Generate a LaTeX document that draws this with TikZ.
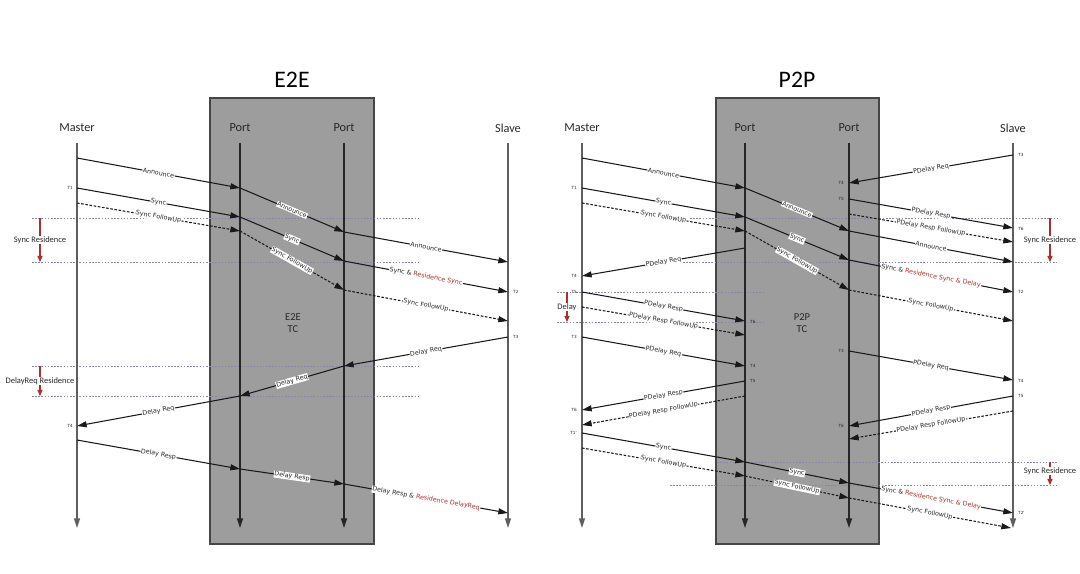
\documentclass[tikz,border=0pt]{standalone}
\usepackage{fontspec}
\setmainfont{Carlito}
\newfontfamily\labfam{DejaVu Sans}
\usetikzlibrary{arrows.meta}
\definecolor{boxgray}{RGB}{157,157,157}
\definecolor{boxedge}{RGB}{70,70,70}
\definecolor{lifegray}{RGB}{95,95,95}
\definecolor{resred}{RGB}{175,45,45}
\definecolor{dotc}{RGB}{135,135,165}
\definecolor{txtc}{RGB}{40,40,40}
\newcommand\cp[3]{\coordinate (#1) at (#2,#3);}
\newcommand\rs[1]{\textcolor{resred}{#1}}
\begin{document}
\begin{tikzpicture}[x=0.02cm,y=-0.02cm,
  tip/.style={-{Triangle[length=5.5pt,width=3.4pt]}},
  msg/.style={draw=black!90, line width=0.6pt, tip},
  dmsg/.style={msg, dash pattern=on 1.5pt off 0.9pt},
  mlab/.style={font=\labfam\fontsize{3.6}{4}\selectfont, text=txtc, fill=white, inner sep=0.3pt, sloped, midway},
  life/.style={draw=lifegray, line width=0.9pt, tip},
  plife/.style={draw=black!85, line width=0.9pt, tip},
  hdr/.style={font=\fontsize{7}{8}\selectfont, text=txtc},
  ttl/.style={font=\fontsize{13.5}{15}\selectfont, text=black},
  tcl/.style={font=\fontsize{6}{7}\selectfont, text=txtc, align=center},
  tlab/.style={font=\labfam\fontsize{2.4}{3}\selectfont, text=txtc, inner sep=0.5pt},
  guide/.style={draw=dotc, line width=0.45pt, dash pattern=on 0.9pt off 0.9pt},
  res/.style={draw=resred, line width=0.6pt, -{Triangle[length=3.5pt,width=3pt]}},
  rlab/.style={font=\fontsize{4.8}{5.5}\selectfont, text=txtc, fill=white, inner sep=0.3pt, midway},
  tcbox/.style={fill=boxgray, draw=boxedge, line width=0.7pt},
]
\useasboundingbox (0,0) rectangle (1080,574);

% ================= E2E =================
\node[ttl] (aTitle) at (292,80) {E2E};
\draw[tcbox] (210,98) rectangle (374,544);
\node[tcl] (aTC) at (293,323) {E2E\\TC};

\node[hdr] (aHM) at (77,128) {Master};
\node[hdr] (aHP) at (240,128) {Port};
\node[hdr] (aHQ) at (344,128) {Port};
\node[hdr] (aHS) at (508,128) {Slave};

% guides
\cp{ag1a}{32}{218}\cp{ag1b}{418}{218}
\cp{ag2a}{32}{262}\cp{ag2b}{418}{262}
\cp{ag3a}{32}{366}\cp{ag3b}{418}{366}
\cp{ag4a}{32}{396}\cp{ag4b}{418}{396}
\draw[guide] (ag1a) -- (ag1b);
\draw[guide] (ag2a) -- (ag2b);
\draw[guide] (ag3a) -- (ag3b);
\draw[guide] (ag4a) -- (ag4b);

% residence markers
\cp{ar1a}{40}{218}\cp{ar1b}{40}{262}
\draw[res] (ar1a) -- node[rlab]{Sync Residence} (ar1b);
\cp{ar2a}{40}{366}\cp{ar2b}{40}{396}
\draw[res] (ar2a) -- node[rlab]{DelayReq Residence} (ar2b);

% lifelines
\cp{aMt}{77}{143}\cp{aMb}{77}{528}
\cp{aPt}{240}{143}\cp{aPb}{240}{528}
\cp{aQt}{344}{143}\cp{aQb}{344}{528}
\cp{aSt}{508}{143}\cp{aSb}{508}{528}
\draw[life] (aMt) -- (aMb);
\draw[plife] (aPt) -- (aPb);
\draw[plife] (aQt) -- (aQb);
\draw[life] (aSt) -- (aSb);

% Announce
\cp{aA0}{77}{158}\cp{aA1}{240}{188}\cp{aA2}{344}{232}\cp{aA3}{508}{262}
\draw[msg] (aA0) -- node[mlab]{Announce} (aA1);
\draw[msg] (aA1) -- node[mlab]{Announce} (aA2);
\draw[msg] (aA2) -- node[mlab]{Announce} (aA3);
% Sync
\cp{aB0}{77}{188}\cp{aB1}{240}{217}\cp{aB2}{344}{261}\cp{aB3}{508}{292}
\draw[msg] (aB0) -- node[mlab]{Sync} (aB1);
\draw[msg] (aB1) -- node[mlab]{Sync} (aB2);
\draw[msg] (aB2) -- node[mlab]{Sync \& \rs{Residence Sync}} (aB3);
% Sync FollowUp
\cp{aC0}{77}{203}\cp{aC1}{240}{231}\cp{aC2}{344}{290}\cp{aC3}{508}{321}
\draw[dmsg] (aC0) -- node[mlab]{Sync FollowUp} (aC1);
\draw[dmsg] (aC1) -- node[mlab]{Sync FollowUp} (aC2);
\draw[dmsg] (aC2) -- node[mlab]{Sync FollowUp} (aC3);
% Delay Req
\cp{aD0}{508}{337}\cp{aD1}{344}{366}\cp{aD2}{240}{396}\cp{aD3}{77}{426}
\draw[msg] (aD0) -- node[mlab]{Delay Req} (aD1);
\draw[msg] (aD1) -- node[mlab]{Delay Req} (aD2);
\draw[msg] (aD2) -- node[mlab]{Delay Req} (aD3);
% Delay Resp
\cp{aE0}{77}{440}\cp{aE1}{240}{469}\cp{aE2}{344}{484}\cp{aE3}{508}{513}
\draw[msg] (aE0) -- node[mlab]{Delay Resp} (aE1);
\draw[msg] (aE1) -- node[mlab]{Delay Resp} (aE2);
\draw[msg] (aE2) -- node[mlab]{Delay Resp \& \rs{Residence DelayReq}} (aE3);

% T labels
\node[tlab, anchor=east] (aT1) at (74,188) {T1};
\node[tlab, anchor=west] (aT2) at (512,292) {T2};
\node[tlab, anchor=west] (aT3) at (512,337) {T3};
\node[tlab, anchor=east] (aT4) at (74,426) {T4};

% ================= P2P =================
\node[ttl] (bTitle) at (797,80) {P2P};
\draw[tcbox] (716,98) rectangle (879,544);
\node[tcl] (bTC) at (802,323) {P2P\\TC};

\node[hdr] (bHM) at (582,128) {Master};
\node[hdr] (bHP) at (745,128) {Port};
\node[hdr] (bHQ) at (849,128) {Port};
\node[hdr] (bHS) at (1013,128) {Slave};

% guides
\cp{bg1a}{690}{218}\cp{bg1b}{1057}{218}
\cp{bg2a}{683}{262}\cp{bg2b}{1057}{262}
\cp{bg3a}{557}{292}\cp{bg3b}{763}{292}
\cp{bg4a}{557}{322}\cp{bg4b}{763}{322}
\cp{bg5a}{717}{462}\cp{bg5b}{1057}{462}
\cp{bg6a}{670}{485}\cp{bg6b}{1057}{485}
\draw[guide] (bg1a) -- (bg1b);
\draw[guide] (bg2a) -- (bg2b);
\draw[guide] (bg3a) -- (bg3b);
\draw[guide] (bg4a) -- (bg4b);
\draw[guide] (bg5a) -- (bg5b);
\draw[guide] (bg6a) -- (bg6b);

% residence markers
\cp{br1a}{1050}{218}\cp{br1b}{1050}{262}
\draw[res] (br1a) -- node[rlab]{Sync Residence} (br1b);
\cp{br2a}{567}{292}\cp{br2b}{567}{322}
\draw[res] (br2a) -- node[rlab]{Delay} (br2b);
\cp{br3a}{1050}{462}\cp{br3b}{1050}{485}
\draw[res] (br3a) -- node[rlab, pos=0.4]{Sync Residence} (br3b);

% lifelines
\cp{bMt}{582}{143}\cp{bMb}{582}{528}
\cp{bPt}{745}{143}\cp{bPb}{745}{528}
\cp{bQt}{849}{143}\cp{bQb}{849}{528}
\cp{bSt}{1013}{143}\cp{bSb}{1013}{528}
\draw[life] (bMt) -- (bMb);
\draw[plife] (bPt) -- (bPb);
\draw[plife] (bQt) -- (bQb);
\draw[life] (bSt) -- (bSb);

% Announce
\cp{bA0}{582}{158}\cp{bA1}{745}{188}\cp{bA2}{849}{231}\cp{bA3}{1013}{262}
\draw[msg] (bA0) -- node[mlab]{Announce} (bA1);
\draw[msg] (bA1) -- node[mlab]{Announce} (bA2);
\draw[msg] (bA2) -- node[mlab]{Announce} (bA3);
% Sync
\cp{bB0}{582}{188}\cp{bB1}{745}{217}\cp{bB2}{849}{260}\cp{bB3}{1013}{292}
\draw[msg] (bB0) -- node[mlab]{Sync} (bB1);
\draw[msg] (bB1) -- node[mlab]{Sync} (bB2);
\draw[msg] (bB2) -- node[mlab]{Sync \& \rs{Residence Sync \& Delay}} (bB3);
% Sync FollowUp
\cp{bC0}{582}{203}\cp{bC1}{745}{231}\cp{bC2}{849}{290}\cp{bC3}{1013}{321}
\draw[dmsg] (bC0) -- node[mlab]{Sync FollowUp} (bC1);
\draw[dmsg] (bC1) -- node[mlab]{Sync FollowUp} (bC2);
\draw[dmsg] (bC2) -- node[mlab]{Sync FollowUp} (bC3);

% Peer delay, Port2 <-> Slave (first)
\cp{bD0}{1013}{155}\cp{bD1}{849}{183}
\draw[msg] (bD0) -- node[mlab]{PDelay Req} (bD1);
\cp{bD2}{849}{199}\cp{bD3}{1013}{228}
\draw[msg] (bD2) -- node[mlab]{PDelay Resp} (bD3);
\cp{bD4}{849}{214}\cp{bD5}{1013}{242}
\draw[dmsg] (bD4) -- node[mlab]{PDelay Resp FollowUp} (bD5);

% Peer delay, Port1 -> Master
\cp{bE0}{745}{248}\cp{bE1}{582}{276}
\draw[msg] (bE0) -- node[mlab]{PDelay Req} (bE1);
\cp{bE2}{582}{292}\cp{bE3}{745}{321}
\draw[msg] (bE2) -- node[mlab]{PDelay Resp} (bE3);
\cp{bE4}{582}{307}\cp{bE5}{745}{335}
\draw[dmsg] (bE4) -- node[mlab]{PDelay Resp FollowUp} (bE5);

% Peer delay, Master -> Port1
\cp{bF0}{582}{337}\cp{bF1}{745}{366}
\draw[msg] (bF0) -- node[mlab]{PDelay Req} (bF1);
\cp{bF2}{745}{381}\cp{bF3}{582}{410}
\draw[msg] (bF2) -- node[mlab]{PDelay Resp} (bF3);
\cp{bF4}{745}{396}\cp{bF5}{582}{425}
\draw[dmsg] (bF4) -- node[mlab]{PDelay Resp FollowUp} (bF5);

% Peer delay, Port2 -> Slave (second)
\cp{bG0}{849}{351}\cp{bG1}{1013}{380}
\draw[msg] (bG0) -- node[mlab]{PDelay Req} (bG1);
\cp{bG2}{1013}{396}\cp{bG3}{849}{426}
\draw[msg] (bG2) -- node[mlab]{PDelay Resp} (bG3);
\cp{bG4}{1013}{411}\cp{bG5}{849}{439}
\draw[dmsg] (bG4) -- node[mlab]{PDelay Resp FollowUp} (bG5);

% second Sync
\cp{bH0}{582}{433}\cp{bH1}{745}{462}\cp{bH2}{849}{483}\cp{bH3}{1013}{513}
\draw[msg] (bH0) -- node[mlab]{Sync} (bH1);
\draw[msg] (bH1) -- node[mlab]{Sync} (bH2);
\draw[msg] (bH2) -- node[mlab]{Sync \& \rs{Residence Sync \& Delay}} (bH3);
% second Sync FollowUp
\cp{bI0}{582}{448}\cp{bI1}{745}{476}\cp{bI2}{849}{498}\cp{bI3}{1011}{528}
\draw[dmsg] (bI0) -- node[mlab]{Sync FollowUp} (bI1);
\draw[dmsg] (bI1) -- node[mlab]{Sync FollowUp} (bI2);
\draw[dmsg] (bI2) -- node[mlab]{Sync FollowUp} (bI3);

% T labels
\node[tlab, anchor=west] (bT3a) at (1017,155) {T3};
\node[tlab, anchor=east] (bT4a) at (845,183) {T4};
\node[tlab, anchor=east] (bT5a) at (845,199) {T5};
\node[tlab, anchor=west] (bT6a) at (1017,229) {T6};
\node[tlab, anchor=east] (bT1) at (578,188) {T1};
\node[tlab, anchor=west] (bT2) at (1017,292) {T2};
\node[tlab, anchor=east] (bT4b) at (578,276) {T4};
\node[tlab, anchor=east] (bT5b) at (578,292) {T5};
\node[tlab, anchor=west] (bT6b) at (749,322) {T6};
\node[tlab, anchor=east] (bT3c) at (578,337) {T3};
\node[tlab, anchor=west] (bT4c) at (749,366) {T4};
\node[tlab, anchor=west] (bT5c) at (749,381) {T5};
\node[tlab, anchor=east] (bT6c) at (578,410) {T6};
\node[tlab, anchor=east] (bT3d) at (845,351) {T3};
\node[tlab, anchor=west] (bT4d) at (1017,381) {T4};
\node[tlab, anchor=west] (bT5d) at (1017,396) {T5};
\node[tlab, anchor=east] (bT6d) at (845,426) {T6};
\node[tlab, anchor=east] (bT1p) at (578,433) {T1'};
\node[tlab, anchor=west] (bT2p) at (1017,513) {T2'};
\end{tikzpicture}
\end{document}
